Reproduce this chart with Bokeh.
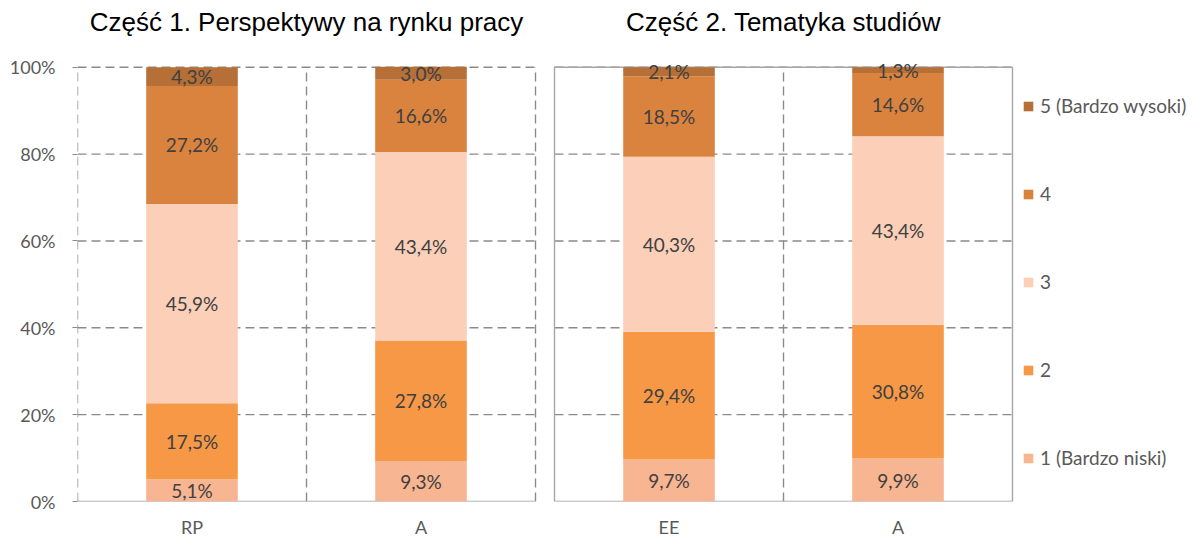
from bokeh.plotting import figure
from bokeh.models import (ColumnDataSource, FixedTicker, Legend, LegendItem, Range1d)
from bokeh.embed import file_html
from bokeh.resources import INLINE
from bokeh.core.properties import value

# ---- data ----
levels = ["1 (Bardzo niski)", "2", "3", "4", "5 (Bardzo wysoki)"]
colors = ["#F8B591", "#F69846", "#FBCFB8", "#DA833E", "#B56F37"]

part1_title = "Część 1. Perspektywy na rynku pracy"
part1_cats = ["RP", "A"]
part1_vals = {
    "1 (Bardzo niski)": [5.1, 9.3],
    "2": [17.5, 27.8],
    "3": [45.9, 43.4],
    "4": [27.2, 16.6],
    "5 (Bardzo wysoki)": [4.3, 3.0],
}

part2_title = "Część 2. Tematyka studiów"
part2_cats = ["EE", "A"]
part2_vals = {
    "1 (Bardzo niski)": [9.7, 9.9],
    "2": [29.4, 30.8],
    "3": [40.3, 43.4],
    "4": [18.5, 14.6],
    "5 (Bardzo wysoki)": [2.1, 1.3],
}

y_ticks = [0, 20, 40, 60, 80, 100]

# ---- layout constants (pixels -> data units) ----
LABEL_FONT = "Lato"
GRID_COL = "#8a8a8a"
EDGE_COL = "#a6a6a6"
TXT_COL = "#595959"

W, H = 1200, 540
BL, BB = 77, 37
frame_w = W - BL
frame_h = H - BB
px_per_cat = 229.0
px_per_pct = 4.36
x_end = frame_w / px_per_cat
y_end = frame_h / px_per_pct
GAP = 19 / px_per_cat

p = figure(width=W, height=H, output_backend="svg", toolbar_location=None,
           x_range=Range1d(0, x_end), y_range=Range1d(0, y_end),
           min_border_left=BL, min_border_right=0, min_border_top=0,
           min_border_bottom=BB)
p.outline_line_color = None
p.xgrid.visible = False
p.ygrid.visible = False

panels = [
    (part1_title, part1_cats, part1_vals, 0.0, False),
    (part2_title, part2_cats, part2_vals, 2.0 + GAP, True),
]

legend_rends = None
xtick_pos, xtick_lab = [], []
for title, cats, vals, off, solid_edges in panels:
    n = len(cats)
    # horizontal dashed grid
    hy = [t for t in y_ticks if t > 0]
    p.segment(x0=[off] * len(hy), x1=[off + n] * len(hy), y0=hy, y1=hy,
              line_color=GRID_COL, line_dash="9 5", line_width=1.4)
    # vertical dashed grid at category boundaries
    vx = list(range(n + 1))
    if solid_edges:
        p.segment(x0=[off, off + n, off], x1=[off, off + n, off + n],
                  y0=[0, 0, 100], y1=[100, 100, 100],
                  line_color=EDGE_COL, line_width=1.4)
        vx = vx[1:-1]
    p.segment(x0=[off + v for v in vx], x1=[off + v for v in vx],
              y0=[0] * len(vx), y1=[100] * len(vx),
              line_color=GRID_COL, line_dash="9 5", line_width=1.4)
    # bottom axis line
    p.segment(x0=[off], x1=[off + n], y0=[0], y1=[0], line_color="#9a9a9a", line_width=1.6)

    xs = [off + i + 0.5 for i in range(n)]
    data = {"x": xs}
    for lv in levels:
        data[lv] = vals[lv]
    src = ColumnDataSource(data)
    rends = p.vbar_stack(levels, x="x", width=0.4, source=src, color=colors,
                         line_color=None)
    if legend_rends is None:
        legend_rends = rends

    lx, ly, lt = [], [], []
    for i in range(n):
        base = 0.0
        for lv in levels:
            v = vals[lv][i]
            lx.append(xs[i])
            ly.append(base + v / 2)
            lt.append(f"{v:.1f}%".replace(".", ","))
            base += v
    p.text(x=lx, y=ly, text=lt, text_align="center", text_baseline="middle",
           text_font=value(LABEL_FONT), text_font_size="19px", text_color="#404040")

    # panel title
    p.text(x=[off + n / 2], y=[100 + 45 / px_per_pct], text=[title],
           text_align="center", text_baseline="middle",
           text_font=value("Liberation Sans"), text_font_size="26px", text_color="#000000")

    xtick_pos += xs
    xtick_lab += cats

# x axis: category labels only
p.xaxis.ticker = FixedTicker(ticks=xtick_pos)
p.xaxis.major_label_overrides = {x: c for x, c in zip(xtick_pos, xtick_lab)}
p.xaxis.axis_line_color = None
p.xaxis.major_tick_line_color = None
p.xaxis.major_tick_out = 0
p.xaxis.major_tick_in = 0
p.xaxis.minor_tick_line_color = None
p.xaxis.major_label_text_font = LABEL_FONT
p.xaxis.major_label_text_font_size = "18px"
p.xaxis.major_label_text_color = TXT_COL
p.xaxis.major_label_standoff = 14

# y axis
p.yaxis.ticker = FixedTicker(ticks=y_ticks)
p.yaxis.major_label_overrides = {t: f"{t}%" for t in y_ticks}
p.yaxis.axis_line_color = None
p.yaxis.minor_tick_line_color = None
p.yaxis.major_tick_line_color = GRID_COL
p.yaxis.major_tick_in = 0
p.yaxis.major_tick_out = 5
p.yaxis.major_label_text_font = LABEL_FONT
p.yaxis.major_label_text_font_size = "18px"
p.yaxis.major_label_text_color = TXT_COL
p.yaxis.major_label_standoff = 17

# legend (top level first)
items = [LegendItem(label=lv, renderers=[r]) for lv, r in zip(levels, legend_rends)][::-1]
leg = Legend(items=items, location=(945, 32), border_line_color=None,
             background_fill_alpha=0, label_text_font=LABEL_FONT,
             label_text_font_size="19px", label_text_color=TXT_COL,
             glyph_width=12, glyph_height=12, label_height=20,
             spacing=65, padding=0, margin=0, label_standoff=6)
p.add_layout(leg, "center")

open("out.html", "w").write(file_html(p, INLINE))
